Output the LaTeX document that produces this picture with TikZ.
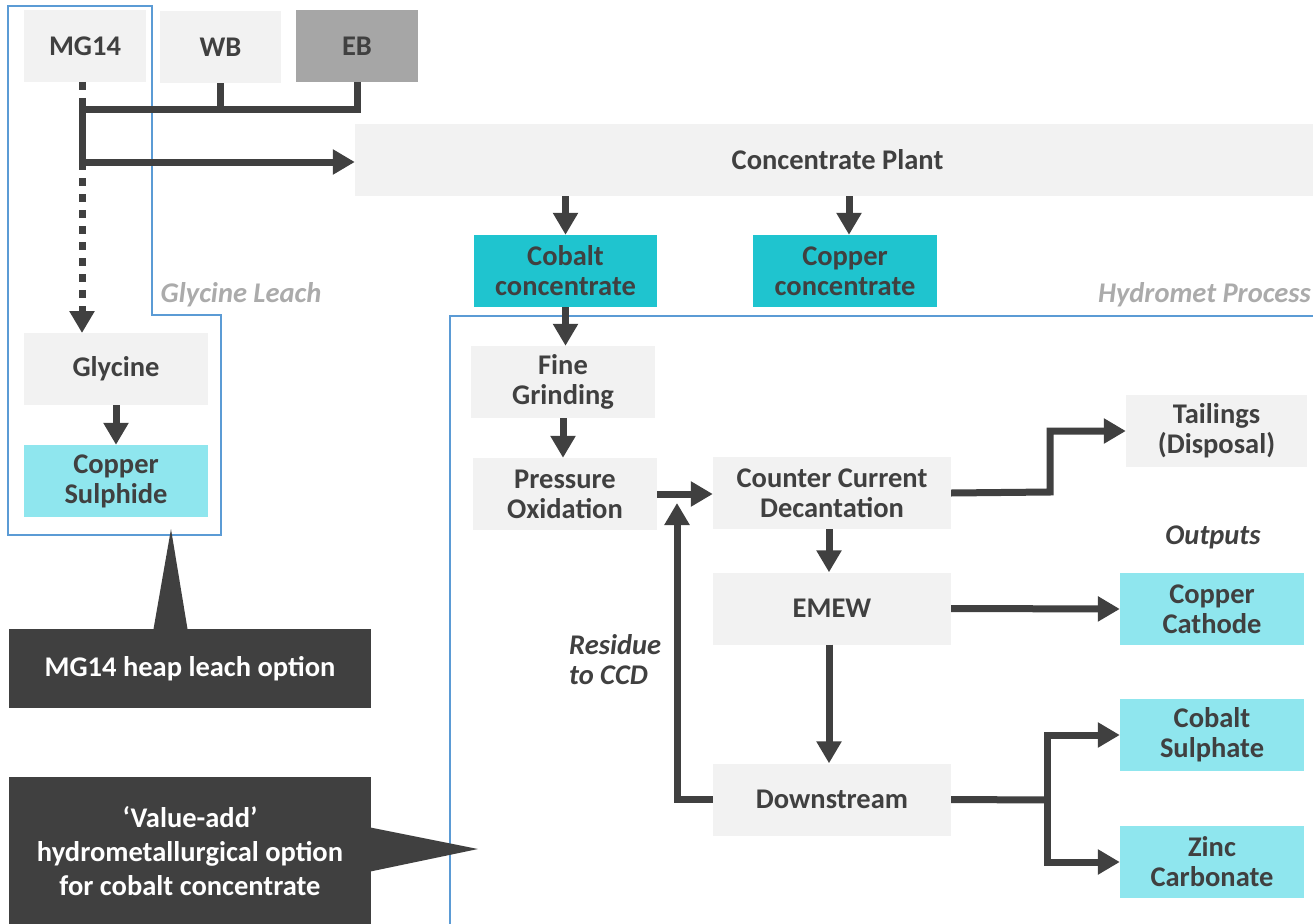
\documentclass[tikz,border=0pt]{standalone}
\usepackage{fontspec}
\setmainfont{Carlito}
\usetikzlibrary{arrows.meta}
\definecolor{dk}{HTML}{404040}
\definecolor{lbox}{HTML}{F2F2F2}
\definecolor{ebg}{HTML}{A6A6A6}
\definecolor{teal}{HTML}{1FC4CF}
\definecolor{lcyan}{HTML}{8FE6EE}
\definecolor{bord}{HTML}{5B9BD5}
\definecolor{lbl}{HTML}{ABABAB}
\newcommand\fsz{\fontsize{28.5}{30}\selectfont}
\tikzset{
  box/.style={fill=lbox, text=dk, font=\fsz\bfseries, align=center, inner sep=0pt, minimum width=#1, minimum height=72pt},
  box/.default=184pt,
  conn/.style={draw=dk, line width=7pt, line join=miter},
  arr/.style={conn, -{Triangle[length=22pt,width=24pt]}},
  dotline/.style={draw=dk, line width=7pt, dash pattern=on 8pt off 8pt},
  border/.style={draw=bord, line width=2.5pt},
  callout/.style={fill=dk, text=white, font=\fsz\bfseries, align=center, inner sep=0pt},
  glabel/.style={text=lbl, font=\fsz\bfseries\itshape, inner sep=0pt},
  dlabel/.style={text=dk, font=\fsz\bfseries\itshape, inner sep=0pt}
}
\begin{document}
\begin{tikzpicture}[x=1pt,y=-1pt]
\useasboundingbox (0,0) rectangle (1313,923);
\fill[white] (0,0) rectangle (1313,923);

% borders
\draw[border] (8,6) -- (152,6) -- (152,315) -- (221,315) -- (221,535) -- (8,535) -- cycle;
\draw[border] (450,935) -- (450,316) -- (1325,316);

% top boxes
\node[box=122pt] (mg14) at (85,46) {MG14};
\node[box=121pt] (wb) at (220.5,47) {WB};
\node[box=122pt, fill=ebg] (eb) at (357,46) {EB};
\node[box=965pt] (plant) at (837.5,160) {Concentrate Plant};
\node[box=183pt, fill=teal] (coconc) at (565.5,271) {Cobalt\\concentrate};
\node[box=184pt, fill=teal] (cuconc) at (845,271) {Copper\\concentrate};

% glycine leach
\node[box] (gly) at (116,369) {Glycine};
\node[box, fill=lcyan] (cus) at (116,481) {Copper\\Sulphide};

% hydromet
\node[box] (fine) at (563,382) {Fine\\Grinding};
\node[box] (pox) at (565,494) {Pressure\\Oxidation};
\node[box=238pt] (ccd) at (832,493) {Counter Current\\Decantation};
\node[box=181pt] (tail) at (1216.5,431) {Tailings\\(Disposal)};
\node[box=238pt] (emew) at (832,608.5) {EMEW};
\node[box, fill=lcyan] (cath) at (1212,609) {Copper\\Cathode};
\node[box=238pt] (down) at (832,799.5) {Downstream};
\node[box, fill=lcyan] (cosul) at (1212,735) {Cobalt\\Sulphate};
\node[box, fill=lcyan] (zinc) at (1212,862) {Zinc\\Carbonate};

% labels
\node[glabel] (lgly) at (241,295) {Glycine Leach};
\node[glabel, anchor=east] (lhyd) at (1311,295) {Hydromet Process};
\node[dlabel] (lout) at (1213,537) {Outputs};
\node[dlabel, anchor=west, align=left] (lres) at (569,660) {Residue\\to CCD};

% callouts
\fill[dk] (153,632) -- (171,529) -- (188,632) -- cycle;
\node[callout, minimum width=362pt, minimum height=79pt] (call1) at (190,668.5) {MG14 heap leach option};
\fill[dk] (368,827) -- (478,849) -- (368,872) -- cycle;
\fill[dk] (9,777) rectangle (371,930);
\node[callout, font=\fontsize{28.5}{34}\selectfont\bfseries] (call2) at (190,851) {‘Value-add’\\hydrometallurgical option\\for cobalt concentrate};

% connectors top
\coordinate (j) at (82,110);
\coordinate (k) at (82,162);
\coordinate (glytop) at (82,333);
\draw[dotline, -{Triangle[length=22pt,width=24pt]}] (82,82) -- (glytop);
\draw[conn] (82,100) -- (k);
\draw[conn] (eb.south) |- (j);
\draw[conn] (wb.south) -- (wb.south |- j);
\draw[arr] (k) -- (plant.west |- k);
\draw[arr] (plant.south -| coconc.north) -- (coconc.north);
\draw[arr] ([xshift=4pt]plant.south -| cuconc.north) -- ([xshift=4pt]cuconc.north);
\draw[arr] (gly.south) -- (cus.north);

% hydromet connectors
\draw[arr] (coconc.south) -- (coconc.south |- fine.north);
\draw[arr] (fine.south) -- (fine.south |- pox.north);
\draw[arr] (pox.east) -- (pox.east -| ccd.west);
\coordinate (rtip) at (677,503);
\draw[arr] (down.west) -| (rtip);
\coordinate (tj) at (1050,492);
\draw[arr] (ccd.east) -- (tj) |- (tail.west);
\draw[arr] ([xshift=-3pt]ccd.south) -- ([xshift=-3pt]emew.north);
\draw[arr] (emew.east) -- (cath.west);
\draw[arr] ([xshift=-3pt]emew.south) -- ([xshift=-3pt]down.north);
\coordinate (dj) at (1047,800);
\draw[conn] (down.east) -- (dj);
\draw[arr] (dj) |- (cosul.west);
\draw[arr] (dj) |- (zinc.west);
\end{tikzpicture}
\end{document}
